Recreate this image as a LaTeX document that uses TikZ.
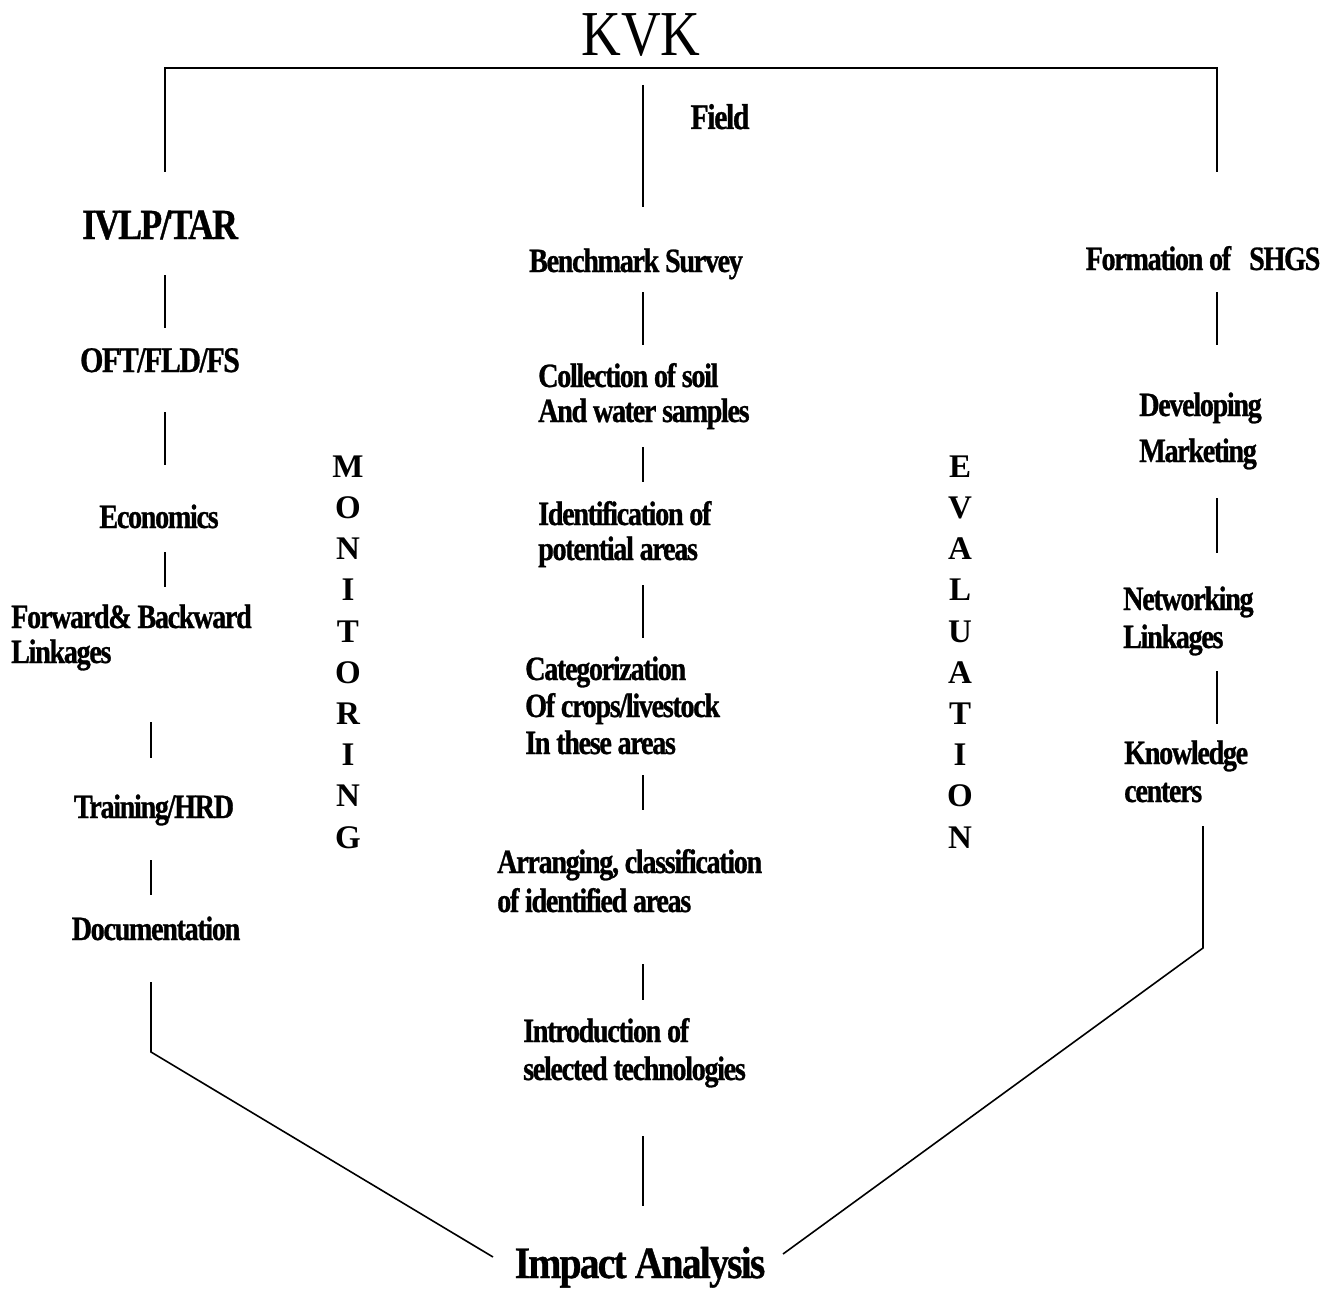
\documentclass[tikz,border=0pt]{standalone}
\usepackage{fontspec}
\setmainfont{Liberation Serif}
\newfontfamily\cf{Liberation Serif}[FakeStretch=0.83, LetterSpace=-4, FakeBold=0.8]
\newfontfamily\cfb{Liberation Serif}[FakeStretch=0.88, LetterSpace=-4, FakeBold=0.8]
\newfontfamily\cfk{Liberation Serif}[FakeStretch=0.86]
\tikzset{
  lbl/.style={inner sep=0pt, anchor=base, font=\cf\bfseries\fontsize{34}{38}\selectfont},
  ml/.style={lbl, align=left, anchor=base west},
  vert/.style={inner sep=0pt, anchor=base, align=center, font=\bfseries\fontsize{33}{41.2}\selectfont},
  link/.style={line width=1.6pt, line cap=butt},
}
\begin{document}
\begin{tikzpicture}[x=1pt,y=-1pt]
\fill[white] (0,0) rectangle (1338,1292);
\useasboundingbox (0,0) rectangle (1338,1292);

% titles
\node[lbl, font=\cfk\fontsize{64}{70}\selectfont] (kvk) at (641,56) {KVK};
\node[lbl, font=\cfb\bfseries\fontsize{45}{50}\selectfont] (impact) at (640,1278) {Impact Analysis};

% left column
\node[lbl, font=\cf\bfseries\fontsize{43}{46}\selectfont] (ivlp) at (160,239) {IVLP/TAR};
\node[lbl, font=\cf\bfseries\fontsize{36}{40}\selectfont] (oft) at (160,372) {OFT/FLD/FS};
\node[lbl] (econ) at (159,528) {Economics};
\node[ml, font=\cf\bfseries\fontsize{34}{35}\selectfont] (fwd) at (11,663) {Forward\&\,Backward\\Linkages};
\node[lbl] (train) at (154,818) {Training/HRD};
\node[lbl] (doc) at (156,940) {Documentation};

% centre column
\node[lbl, font=\cf\bfseries\fontsize{36}{40}\selectfont] (field) at (720,129) {Field};
\node[lbl] (bench) at (636,272) {Benchmark Survey};
\node[ml, font=\cf\bfseries\fontsize{34}{35}\selectfont] (coll) at (538,422) {Collection of soil\\And water samples};
\node[ml, font=\cf\bfseries\fontsize{34}{35}\selectfont] (ident) at (538,560) {Identification of\\potential areas};
\node[ml, font=\cf\bfseries\fontsize{34}{37}\selectfont] (categ) at (525,754) {Categorization\\Of crops/livestock\\In these areas};
\node[ml, font=\cf\bfseries\fontsize{34}{39}\selectfont] (arr) at (497,912) {Arranging, classification\\of identified areas};
\node[ml, font=\cf\bfseries\fontsize{34}{38}\selectfont] (intro) at (523,1080) {Introduction of\\selected technologies};

% right column
\node[lbl] (shg) at (1203,270) {Formation of\hspace{18pt}SHGS};
\node[ml, font=\cf\bfseries\fontsize{34}{46}\selectfont] (dev) at (1139,462) {Developing\\Marketing};
\node[ml, font=\cf\bfseries\fontsize{34}{38}\selectfont] (net) at (1123,648) {Networking\\Linkages};
\node[ml, font=\cf\bfseries\fontsize{34}{38}\selectfont] (know) at (1124,802) {Knowledge\\centers};

% vertical words
\node[vert] (mon) at (348,848) {M\\O\\N\\I\\T\\O\\R\\I\\N\\G};
\node[vert] (eva) at (960,848) {E\\V\\A\\L\\U\\A\\T\\I\\O\\N};

% connector end points
\coordinate (tl) at (165,172);
\coordinate (tlc) at (165,68);
\coordinate (trc) at (1217,68);
\coordinate (tr) at (1217,172);
\coordinate (c1a) at (643,85);   \coordinate (c1b) at (643,207);
\coordinate (c2a) at (643,292);  \coordinate (c2b) at (643,345);
\coordinate (c3a) at (643,447);  \coordinate (c3b) at (643,482);
\coordinate (c4a) at (643,585);  \coordinate (c4b) at (643,638);
\coordinate (c5a) at (643,775);  \coordinate (c5b) at (643,810);
\coordinate (c6a) at (643,964);  \coordinate (c6b) at (643,1000);
\coordinate (c7a) at (643,1136); \coordinate (c7b) at (643,1206);
\coordinate (l2a) at (165,275);  \coordinate (l2b) at (165,328);
\coordinate (l3a) at (165,412);  \coordinate (l3b) at (165,465);
\coordinate (l4a) at (165,552);  \coordinate (l4b) at (165,587);
\coordinate (l5a) at (151,722);  \coordinate (l5b) at (151,758);
\coordinate (l6a) at (151,860);  \coordinate (l6b) at (151,895);
\coordinate (l7a) at (151,982);  \coordinate (l7b) at (151,1052);
\coordinate (l7c) at (493,1257);
\coordinate (r2a) at (1217,292); \coordinate (r2b) at (1217,345);
\coordinate (r3a) at (1217,498); \coordinate (r3b) at (1217,553);
\coordinate (r4a) at (1217,671); \coordinate (r4b) at (1217,724);
\coordinate (r5a) at (1203,826); \coordinate (r5b) at (1203,948);
\coordinate (r5c) at (783,1254);

\draw[link, line width=2pt] (tl) -- (tlc) -- (trc) -- (tr);
\foreach \a/\b in {c1a/c1b,c2a/c2b,c3a/c3b,c4a/c4b,c5a/c5b,c6a/c6b,c7a/c7b,
                   l2a/l2b,l3a/l3b,l4a/l4b,l5a/l5b,l6a/l6b,
                   r2a/r2b,r3a/r3b,r4a/r4b}
  \draw[link] (\a) -- (\b);
\draw[link] (l7a) -- (l7b) -- (l7c);
\draw[link] (r5a) -- (r5b) -- (r5c);
\end{tikzpicture}
\end{document}
